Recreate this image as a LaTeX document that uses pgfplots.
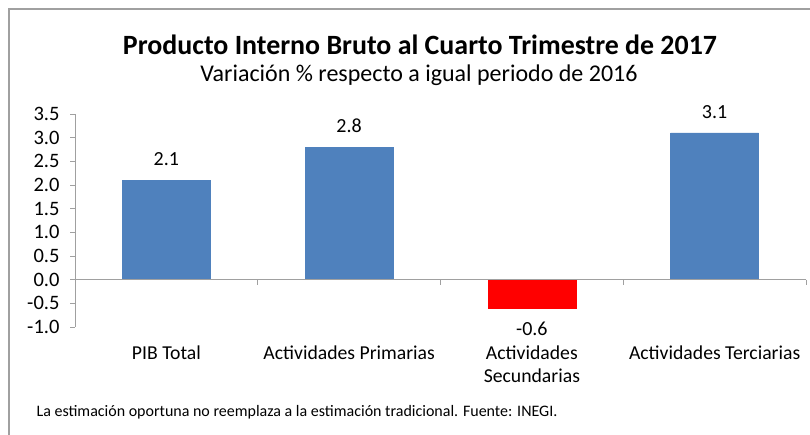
\documentclass[border=0pt]{standalone}
\usepackage{fontspec}
\setmainfont{Carlito}
\usepackage{pgfplots}
\pgfplotsset{compat=1.18}
\definecolor{barblue}{HTML}{4F81BD}
\definecolor{axgray}{HTML}{A0A0A0}
\begin{document}
\begin{tikzpicture}[x=1pt,y=1pt]
\useasboundingbox (0,0) rectangle (810,435);
\draw[axgray,line width=2pt] (9,-5) -- (9,426) -- (815,426);
\node[font=\bfseries\fontsize{27.9}{32}\selectfont] at (420,390) {Producto Interno Bruto al Cuarto Trimestre de 2017};
\node[font=\fontsize{24}{28}\selectfont] at (419,360) {Variación \% respecto a igual periodo de 2016};
\node[font=\fontsize{16}{19}\selectfont,anchor=west] at (33,23) {La estimación oportuna no reemplaza a la estimación tradicional. Fuente: INEGI.};
\begin{axis}[
  at={(75pt,108pt)}, anchor=south west,
  scale only axis, width=731pt, height=213pt,
  xmin=-0.5, xmax=3.5, ymin=-1, ymax=3.5,
  axis x line=none,
  axis y line*=left,
  y axis line style={axgray,line width=0.8pt,-},
  ytick={-1,-0.5,...,3.5},
  yticklabel style={font=\fontsize{20.5}{22}\selectfont, xshift=-7pt, /pgf/number format/.cd,fixed,fixed zerofill,precision=1},
  /pgf/number format/assume math mode=true,
  tick style={axgray,line width=0.8pt},
  tick align=outside, major tick length=5pt,
  ybar, bar width=88pt,
  nodes near coords,
  nodes near coords style={font=\fontsize{20}{22}\selectfont, inner sep=14pt, /pgf/number format/.cd,fixed,fixed zerofill,precision=1,assume math mode=true},
  clip=false,
]
\addplot[fill=barblue,draw=barblue,bar shift=0pt] coordinates {(0,2.1) (1,2.8) (3,3.1)};
\addplot[fill=red,draw=red,bar shift=0pt] coordinates {(2,-0.6)};
\draw[axgray,line width=0.8pt] (axis cs:-0.5,0) -- (axis cs:3.5,0);
\draw[axgray,line width=0.8pt] (axis cs:0.5,0) -- ([yshift=-5pt]axis cs:0.5,0);
\draw[axgray,line width=0.8pt] (axis cs:1.5,0) -- ([yshift=-5pt]axis cs:1.5,0);
\draw[axgray,line width=0.8pt] (axis cs:2.5,0) -- ([yshift=-5pt]axis cs:2.5,0);
\draw[axgray,line width=0.8pt] (axis cs:3.5,0) -- ([yshift=-5pt]axis cs:3.5,0);
\node[font=\fontsize{19.7}{23}\selectfont,align=center,anchor=north,yshift=-15pt] at (axis cs:0,-1) {PIB Total};
\node[font=\fontsize{19.7}{23}\selectfont,align=center,anchor=north,yshift=-15pt] at (axis cs:1,-1) {Actividades Primarias};
\node[font=\fontsize{19.7}{23}\selectfont,align=center,anchor=north,yshift=-15pt] at (axis cs:2,-1) {Actividades\\Secundarias};
\node[font=\fontsize{19.7}{23}\selectfont,align=center,anchor=north,yshift=-15pt] at (axis cs:3,-1) {Actividades Terciarias};
\end{axis}
\end{tikzpicture}
\end{document}
